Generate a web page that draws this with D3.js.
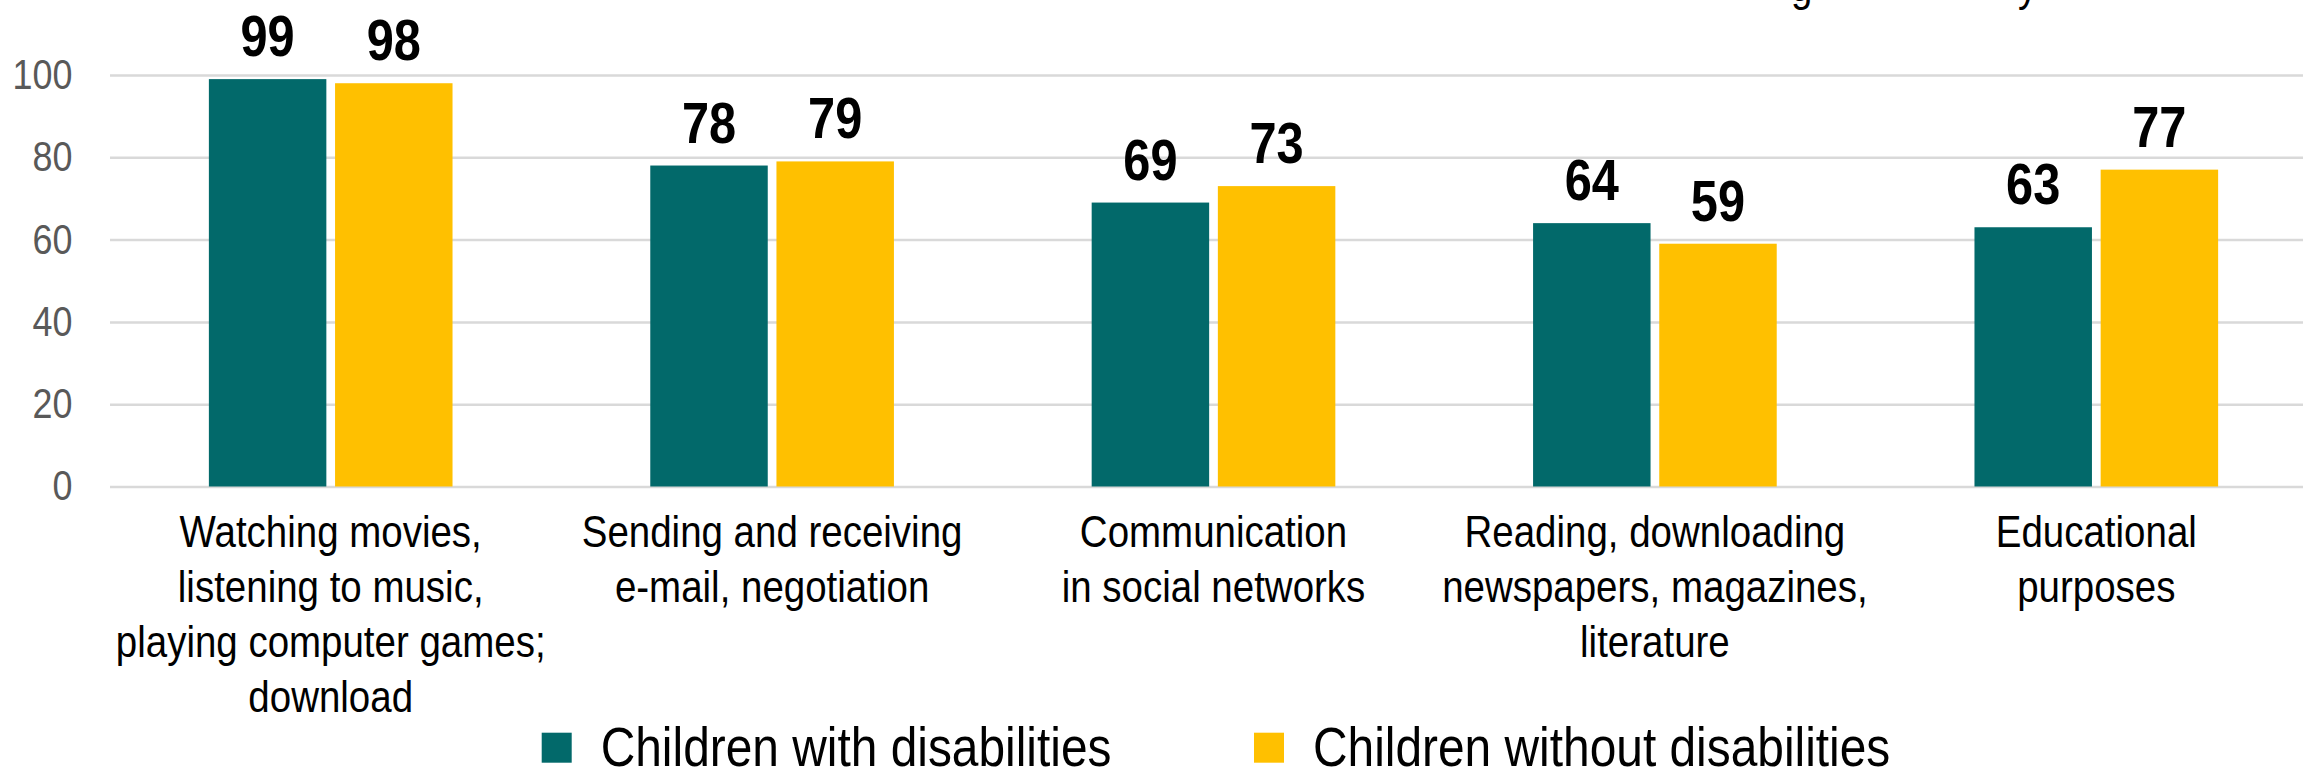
<!DOCTYPE html>
<html>
<head>
<meta charset="utf-8">
<script src="https://cdn.jsdelivr.net/npm/d3@7"></script>
<style>
  body { margin: 0; background: #fff; }
  svg { display: block; font-family: "Liberation Sans", Arial, sans-serif; }
</style>
</head>
<body>
<div id="chart"></div>
<script>
// category labels, already wrapped as in the picture
const categories = [
    ["Watching movies,", "listening to music,", "playing computer games;", "download"],
    ["Sending and receiving", "e-mail, negotiation"],
    ["Communication", "in social networks"],
    ["Reading, downloading", "newspapers, magazines,", "literature"],
    ["Educational", "purposes"]
];
const seriesNames = ["Children with disabilities", "Children without disabilities"];
const withDisabilities = [99, 78, 69, 64, 63];
const withoutDisabilities = [98, 79, 73, 59, 77];
const yTickValues = [0, 20, 40, 60, 80, 100];
const colors = ["#02696A", "#FFC000"];

// the original picture is squeezed horizontally, so draw wider and let the viewBox squeeze it
const K = 0.855;
const W = 2303 / K, H = 770;

const svg = d3.select("#chart").append("svg")
    .attr("width", 2303)
    .attr("height", H)
    .attr("viewBox", `0 0 ${W} ${H}`)
    .attr("preserveAspectRatio", "none");

const left = 110 / K;
const x0 = d3.scaleBand()
    .domain(d3.range(categories.length))
    .range([left, 2317 / K])
    .paddingInner(0.448)
    .paddingOuter(0.224);
const x1 = d3.scaleBand()
    .domain(d3.range(seriesNames.length))
    .range([0, x0.bandwidth()])
    .paddingInner(0.069);
const y = d3.scaleLinear().domain([0, 100]).range([486.5, 75]);

// y axis + gridlines
const yAxis = svg.append("g")
    .attr("transform", `translate(${left},0)`)
    .call(d3.axisLeft(y).tickValues(yTickValues).tickSize(-(W - left)).tickPadding(44));
yAxis.select(".domain").remove();
yAxis.selectAll("line").attr("stroke", "#d9d9d9").attr("stroke-width", 2.5);
yAxis.selectAll("text")
    .attr("fill", "#595959")
    .style("font-size", "42px")
    .style("font-family", "'Liberation Sans', Arial, sans-serif");

// bars
const values = [withDisabilities, withoutDisabilities];
const groups = svg.append("g").selectAll("g")
    .data(categories.map((c, i) => i))
    .join("g")
    .attr("transform", i => `translate(${x0(i)},0)`);

groups.selectAll("rect")
    .data(i => values.map((v, s) => ({s: s, v: v[i]})))
    .join("rect")
    .attr("x", d => x1(d.s))
    .attr("y", d => y(d.v))
    .attr("width", x1.bandwidth())
    .attr("height", d => y(0) - y(d.v))
    .attr("fill", d => colors[d.s]);

groups.selectAll("text.val")
    .data(i => values.map((v, s) => ({s: s, v: v[i]})))
    .join("text")
    .attr("class", "val")
    .attr("x", d => x1(d.s) + x1.bandwidth() / 2)
    .attr("y", d => y(d.v) - 23)
    .attr("text-anchor", "middle")
    .style("font-size", "57px")
    .style("font-weight", "bold")
    .attr("fill", "#000")
    .text(d => d.v);

// x axis with wrapped labels
const xAxis = svg.append("g")
    .attr("transform", `translate(0,${y(0)})`)
    .call(d3.axisBottom(x0).tickSize(0).tickFormat(""));
xAxis.select(".domain").remove();
xAxis.selectAll(".tick text").remove();
xAxis.selectAll(".tick").append("text")
    .attr("text-anchor", "middle")
    .attr("fill", "#000")
    .style("font-size", "45px")
    .style("font-family", "'Liberation Sans', Arial, sans-serif")
    .selectAll("tspan")
    .data(i => categories[i])
    .join("tspan")
    .attr("x", 0)
    .attr("y", (d, j) => 60.5 + j * 55)
    .text(d => d);

// legend
const legendX = [541.7 / K, 1254 / K];
const legend = svg.append("g").selectAll("g")
    .data(seriesNames)
    .join("g")
    .attr("transform", (d, i) => `translate(${legendX[i]},0)`);
legend.append("rect")
    .attr("y", 732.7)
    .attr("width", 30 / K)
    .attr("height", 30)
    .attr("fill", (d, i) => colors[i]);
legend.append("text")
    .attr("x", 59 / K)
    .attr("y", 766)
    .style("font-size", "56px")
    .attr("fill", "#000")
    .text(d => d);

// bits of the title cut off by the top edge
svg.append("g").selectAll("text")
    .data([{t: "g", x: 1791}, {t: "y", x: 2018}])
    .join("text")
    .attr("x", d => d.x / K)
    .attr("y", 0.5)
    .style("font-size", "45px")
    .attr("fill", "#000")
    .text(d => d.t);
</script>
</body>
</html>
